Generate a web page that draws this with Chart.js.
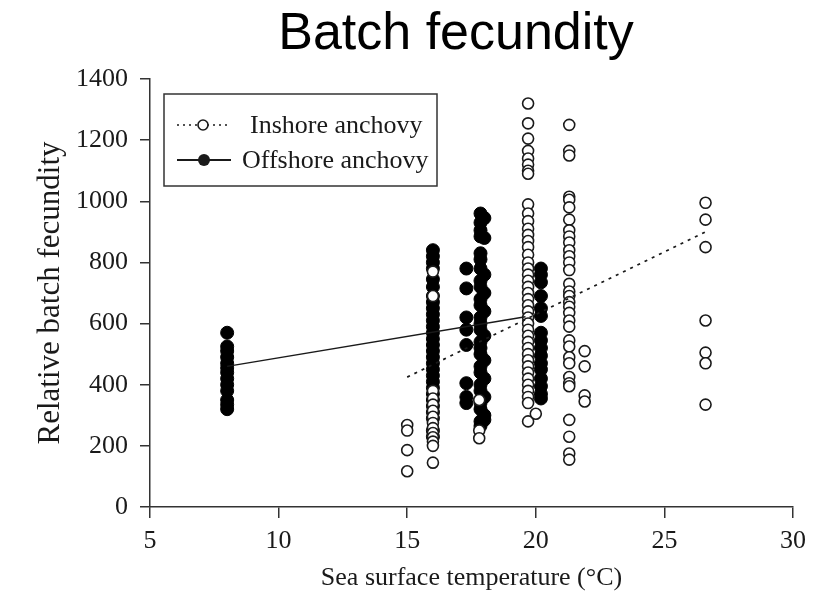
<!DOCTYPE html>
<html>
<head>
<meta charset="utf-8">
<script src="https://cdn.jsdelivr.net/npm/chart.js@4.4.1/dist/chart.umd.min.js"></script>
<style>
  body { margin: 0; background: #fff; }
  #wrap { width: 826px; height: 594px; }
</style>
</head>
<body>
<div id="wrap"><canvas id="chart" width="826" height="594"></canvas></div>
<script>
// --- data ---
const xTicks = [5, 10, 15, 20, 25, 30];
const yTicks = [0, 200, 400, 600, 800, 1000, 1200, 1400];

// inshore anchovy: sea surface temperature of each sample column and its values
const inshoreSST = [15, 16, 17.8, 19.7, 20.0, 21.3, 21.9, 26.6];
const inshoreFecundity = [
  [268, 250, 186, 117],
  [770, 690, 380, 355, 335, 315, 295, 275, 258, 242, 228, 214, 200, 145],
  [350, 250, 225],
  [1320, 1255, 1205, 1165, 1140, 1120, 1100, 1090, 990, 960, 935, 910, 890, 870, 850, 825, 800, 780, 760, 740,
   720, 700, 680, 660, 640, 620, 600, 580, 560, 540, 520, 500, 480, 460, 440, 420, 400, 380, 360, 340, 280],
  [305],
  [1250, 1165, 1150, 1015, 1005, 980, 940, 905, 885, 865, 840, 820, 800, 775, 730, 705, 690, 670, 655, 635,
   610, 590, 545, 525, 490, 470, 425, 405, 395, 285, 230, 175, 155],
  [510, 460, 365, 345],
  [995, 940, 850, 610, 505, 470, 335]
];

// offshore anchovy
const offshoreSST = [8, 16, 17.3, 17.85, 18.0, 20.2];
const offshoreFecundity = [
  [570, 525, 510, 490, 470, 455, 440, 420, 400, 380, 350, 335, 320],
  [840, 820, 800, 780, 745, 720, 690, 670, 650, 630, 610, 590, 570, 550, 530, 510, 490, 470, 450, 430,
   410, 390, 370, 350, 330, 310, 290, 250, 230],
  [780, 715, 620, 580, 530, 405, 360, 340],
  [960, 930, 905, 885, 830, 810, 780, 740, 720, 680, 660, 620, 600, 580, 540, 520, 500, 460, 440, 400,
   380, 340, 320, 280, 265],
  [945, 880, 760, 700, 640, 560, 480, 420, 360, 300, 285],
  [780, 760, 735, 690, 650, 625, 570, 545, 520, 495, 470, 450, 420, 395, 370, 355]
];

// fitted regression lines (end points)
const inshoreFitX = [15, 26.6];
const inshoreFitY = [425, 900];
const offshoreFitX = [8, 19.6];
const offshoreFitY = [460, 622];

// ----------------------------------
function toPoints(xs, groups) {
  const pts = [];
  xs.forEach((x, i) => groups[i].forEach(v => pts.push({ x: x, y: v })));
  return pts;
}
function toLine(xs, ys) {
  return xs.map((x, i) => ({ x: x, y: ys[i] }));
}

const INK = '#1a1a1a';
const serif = "'Liberation Serif', 'Times New Roman', serif";

// title + legend box are drawn on the canvas by a small plugin
const extras = {
  id: 'extras',
  afterDraw(chart) {
    const ctx = chart.ctx;
    ctx.save();
    ctx.fillStyle = '#000';
    ctx.font = "52px 'Liberation Sans', Arial, sans-serif";
    ctx.textAlign = 'center';
    ctx.textBaseline = 'middle';
    ctx.fillText('Batch fecundity', 456, 35);

    // legend
    ctx.strokeStyle = '#333';
    ctx.lineWidth = 1.5;
    ctx.strokeRect(164, 94, 273, 92);

    ctx.strokeStyle = INK;
    ctx.setLineDash([2, 4]);
    ctx.lineWidth = 1.6;
    ctx.beginPath(); ctx.moveTo(177, 125); ctx.lineTo(229, 125); ctx.stroke();
    ctx.setLineDash([]);
    ctx.beginPath(); ctx.arc(203, 125, 5, 0, Math.PI * 2);
    ctx.fillStyle = '#fff'; ctx.fill(); ctx.stroke();

    ctx.lineWidth = 1.8;
    ctx.beginPath(); ctx.moveTo(177, 160); ctx.lineTo(231, 160); ctx.stroke();
    ctx.beginPath(); ctx.arc(204, 160, 6, 0, Math.PI * 2);
    ctx.fillStyle = INK; ctx.fill();

    ctx.fillStyle = INK;
    ctx.font = '26px ' + serif;
    ctx.textAlign = 'left';
    ctx.fillText('Inshore anchovy', 250, 126);
    ctx.fillText('Offshore anchovy', 242, 161);
    ctx.restore();
  }
};

new Chart(document.getElementById('chart'), {
  type: 'scatter',
  data: {
    datasets: [
      {
        label: 'Inshore fit', type: 'line', data: toLine(inshoreFitX, inshoreFitY),
        borderColor: INK, borderWidth: 1.8, borderDash: [3, 5], pointRadius: 0, fill: false
      },
      {
        label: 'Offshore fit', type: 'line', data: toLine(offshoreFitX, offshoreFitY),
        borderColor: INK, borderWidth: 1.5, pointRadius: 0, fill: false
      },
      {
        label: 'Inshore anchovy', data: toPoints(inshoreSST, inshoreFecundity),
        pointRadius: 5.5, pointBackgroundColor: '#fff', pointBorderColor: INK, pointBorderWidth: 1.6
      },
      {
        label: 'Offshore anchovy', data: toPoints(offshoreSST, offshoreFecundity),
        pointRadius: 6.5, pointBackgroundColor: '#000', pointBorderColor: '#000', pointBorderWidth: 1
      }
    ]
  },
  options: {
    responsive: false,
    animation: false,
    layout: { padding: { top: 79, right: 33, left: 0, bottom: 0 } },
    plugins: { legend: { display: false }, tooltip: { enabled: false } },
    scales: {
      x: {
        type: 'linear', min: 5, max: 30,
        afterBuildTicks: s => { s.ticks = xTicks.map(v => ({ value: v })); },
        afterFit: s => { s.height = 87; },
        grid: { drawOnChartArea: false, drawTicks: true, tickLength: 11, color: '#333', lineWidth: 1.5 },
        border: { display: true, color: '#333', width: 1.5 },
        ticks: { color: INK, padding: 8, maxRotation: 0, font: { family: serif, size: 26 },
                 callback: v => String(v) },
        title: {
          display: true, text: 'Sea surface temperature (°C)', color: INK,
          font: { family: serif, size: 26, lineHeight: 1.2 }, padding: { top: 0, bottom: 0 }
        }
      },
      y: {
        type: 'linear', min: 0, max: 1400,
        afterBuildTicks: s => { s.ticks = yTicks.map(v => ({ value: v })); },
        afterFit: s => { s.width = 150; },
        grid: { drawOnChartArea: false, drawTicks: true, tickLength: 10, color: '#333', lineWidth: 1.5 },
        border: { display: true, color: '#333', width: 1.5 },
        ticks: { color: INK, padding: 12, font: { family: serif, size: 26 },
                 callback: v => String(v) },
        title: {
          display: true, text: 'Relative batch fecundity', color: INK,
          font: { family: serif, size: 31, lineHeight: 1.2 }, padding: { top: 32, bottom: 0 }
        }
      }
    }
  },
  plugins: [extras]
});
</script>
</body>
</html>
